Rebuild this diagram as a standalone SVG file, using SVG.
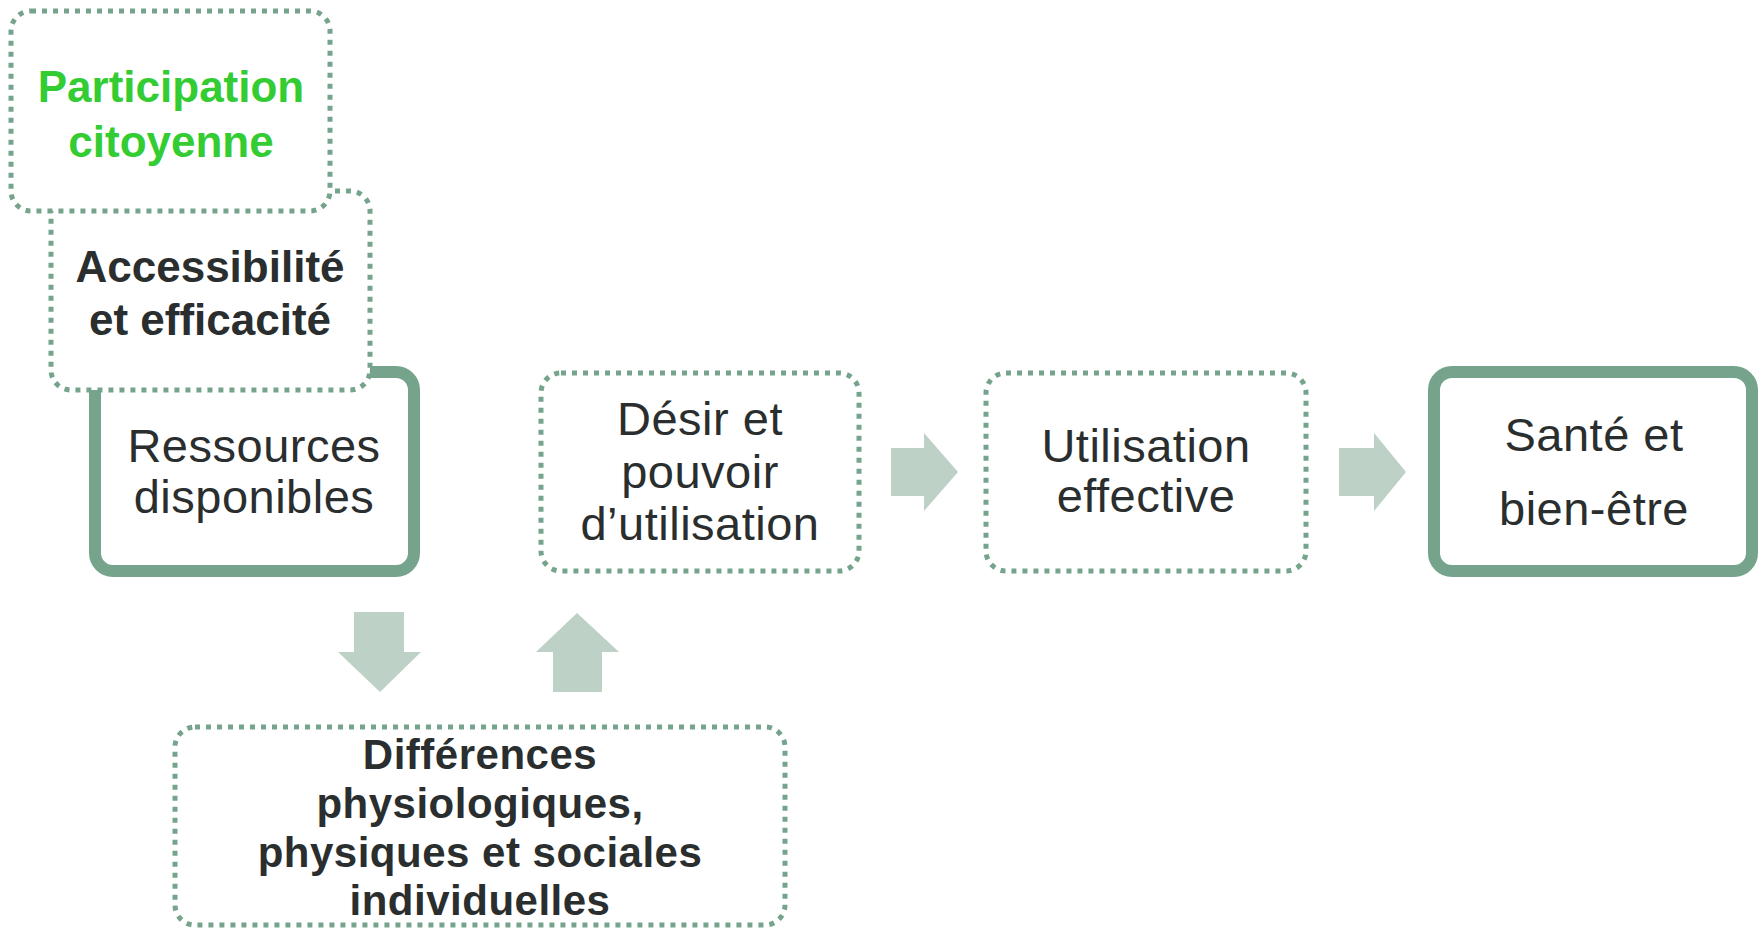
<svg xmlns="http://www.w3.org/2000/svg" width="1762" height="930" viewBox="0 0 1762 930">
  <style>
    .dot { fill: #ffffff; stroke: #76a38b; stroke-width: 5; stroke-dasharray: 5 6; }
    .solid { fill: #ffffff; stroke: #76a38b; stroke-width: 12; }
    .arrow { fill: #bdd1c6; stroke: none; }
    .reg { font-family: "Liberation Sans", Arial, sans-serif; font-size: 47px; fill: #2a2e2e; text-anchor: middle; letter-spacing: 0.5px; }
    .bold { font-family: "Liberation Sans", Arial, sans-serif; font-weight: bold; font-size: 44px; fill: #2a2e2e; text-anchor: middle; }
    .green { fill: #33cc33; }
    .small { font-size: 42px; letter-spacing: 0.5px; }
  </style>
  <rect width="1762" height="930" fill="#ffffff"/>

  <g id="ressources">
    <rect class="solid" x="95" y="372" width="319" height="199" rx="18"/>
    <text class="reg" x="254" y="462">Ressources</text>
    <text class="reg" x="254" y="513">disponibles</text>
  </g>

  <g id="accessibilite">
    <rect class="dot" x="51" y="191" width="319" height="199" rx="20"/>
    <text class="bold" x="210" y="282">Accessibilité</text>
    <text class="bold" x="210" y="335">et efficacité</text>
  </g>

  <g id="participation">
    <rect class="dot" x="11" y="11" width="319" height="200" rx="20"/>
    <text class="bold green" x="171" y="102">Participation</text>
    <text class="bold green" x="171" y="157">citoyenne</text>
  </g>

  <g id="desir">
    <rect class="dot" x="541" y="373" width="318" height="198" rx="20"/>
    <text class="reg" x="700" y="435">Désir et</text>
    <text class="reg" x="700" y="488">pouvoir</text>
    <text class="reg" x="700" y="540">d’utilisation</text>
  </g>

  <g id="utilisation">
    <rect class="dot" x="986" y="373" width="320" height="198" rx="20"/>
    <text class="reg" x="1146" y="462">Utilisation</text>
    <text class="reg" x="1146" y="512">effective</text>
  </g>

  <g id="sante">
    <rect class="solid" x="1434" y="372" width="318" height="199" rx="18"/>
    <text class="reg" x="1594" y="451">Santé et</text>
    <text class="reg" x="1594" y="525">bien-être</text>
  </g>

  <g id="differences">
    <rect class="dot" x="175" y="727" width="610" height="198" rx="20"/>
    <text class="bold small" x="480" y="769">Différences</text>
    <text class="bold small" x="480" y="818">physiologiques,</text>
    <text class="bold small" x="480" y="867">physiques et sociales</text>
    <text class="bold small" x="480" y="915">individuelles</text>
  </g>

  <g id="connectors">
    <polygon class="arrow" points="354,612 404,612 404,652 421,652 380,692 338,652 354,652"/>
    <polygon class="arrow" points="577,613 619,652 602,652 602,692 553,692 553,652 536,652"/>
    <polygon class="arrow" points="891,448 924,448 924,433 958,472 924,511 924,496 891,496"/>
    <polygon class="arrow" points="1339,448 1374,448 1374,433 1406,472 1374,511 1374,496 1339,496"/>
  </g>
</svg>
